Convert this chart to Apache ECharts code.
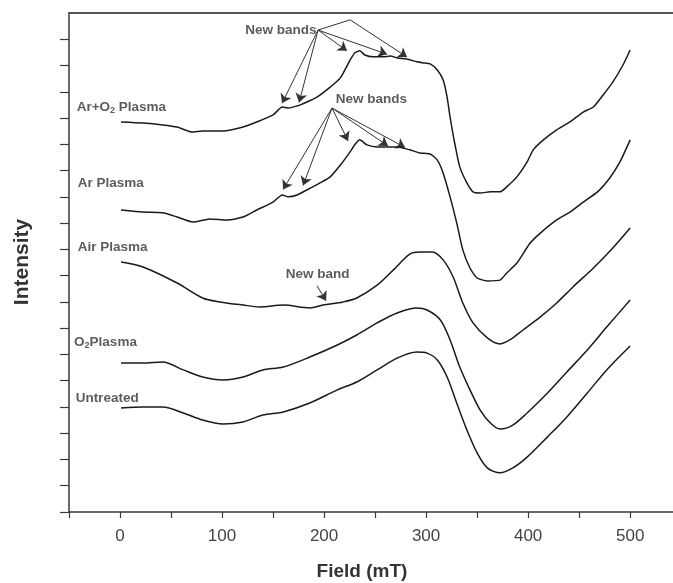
<!DOCTYPE html>
<html><head><meta charset="utf-8">
<script src="https://cdn.jsdelivr.net/npm/echarts@6/dist/echarts.min.js"></script>
<style>html,body{margin:0;padding:0;background:#fff}#c{width:673px;height:583px}</style>
</head><body><div id="c"></div>
<script>
// Field (mT) vs. intensity (arbitrary units, stacked offsets)
const arO2Plasma = [[1,148.5],[22.5,148.1],[42,147.4],[56,146.6],[70.6,144.7],[81,145.1],[101,145.1],[120.6,146.6],[134,148.5],[150,151.2],[159,154.2],[165,153.8],[173.5,154.6],[179,155.4],[193,158.0],[206,161.8],[216,165.3],[225.5,172.1],[230,174.8],[235,175.6],[240,174.0],[248,173.3],[258,173.3],[265,173.6],[271.6,172.9],[281,172.5],[291,171.4],[297,171.0],[304,170.6],[311,168.3],[316.7,164.5],[320.6,158.0],[323.5,150.4],[328,140.5],[333,131.4],[340,125.3],[346,121.9],[353,121.5],[363,121.9],[372.5,121.9],[379,123.8],[389,127.6],[399,133.3],[405,137.9],[415,141.7],[428,145.5],[441,148.5],[454,152.3],[464,154.2],[473.5,158.8],[483,163.7],[493,170.2],[500,175.9]];
const arPlasma = [[1,115.0],[22.5,114.2],[42,113.9],[56,112.3],[71.6,110.4],[88,111.6],[105,111.2],[120.6,112.3],[134,115.0],[150,118.0],[159,120.7],[165,120.0],[173.5,120.7],[183,122.6],[196,125.3],[206,127.6],[216,132.1],[225.5,137.1],[230,139.8],[235,141.7],[242,139.8],[252,139.0],[262,139.0],[271.6,139.0],[284,137.9],[294,136.7],[304,136.3],[311,134.0],[316.7,129.1],[323.5,120.0],[330,110.1],[336,99.8],[343,92.9],[350,89.1],[360,88.0],[372.5,88.3],[379,91.0],[389,94.8],[402,102.4],[412,106.2],[428,111.2],[441,114.2],[454,118.0],[468,121.9],[480,127.2],[490,133.3],[500,141.7]];
const airPlasma = [[1,95.2],[22.5,93.3],[56,87.2],[81,81.5],[98,80.0],[120.6,78.8],[137,78.1],[160,78.8],[186,77.7],[199,78.8],[218.6,80.0],[232,81.5],[252,86.4],[268,92.2],[284,98.2],[294,99.0],[306,99.0],[316.7,96.0],[326.5,89.5],[336,79.6],[346,72.0],[360,66.3],[372.5,64.0],[382,65.5],[395,69.3],[412,74.3],[428,79.6],[444,85.7],[464,92.9],[483,100.5],[500,108.1]];
const o2Plasma = [[1,56.7],[22.5,56.7],[42,57.1],[62,54.1],[81,51.4],[101,50.3],[120.6,51.4],[140,54.1],[160,55.2],[186,59.0],[213,63.6],[232,67.4],[252,72.0],[271.6,75.8],[291,77.7],[301,76.9],[314,73.1],[323.5,65.5],[333,55.2],[343,46.5],[353,38.8],[363,33.9],[372.5,31.6],[385,33.1],[399,37.7],[419,45.3],[438,53.3],[458,61.7],[477,70.4],[500,80.7]];
const untreated = [[1,39.6],[22.5,40.0],[42,40.0],[62,37.7],[81,35.0],[101,33.5],[120.6,34.3],[140,36.9],[160,38.1],[186,41.5],[213,46.5],[232,49.5],[252,54.1],[271.6,58.6],[291,60.9],[301,60.5],[311,57.9],[320.6,51.4],[330,41.5],[340,31.2],[350,22.5],[360,16.8],[372.5,14.9],[385,16.8],[399,20.9],[419,28.6],[438,36.2],[458,45.3],[477,54.1],[500,63.2]];

const seriesNames = ['Ar+O2 Plasma','Ar Plasma','Air Plasma','O2 Plasma','Untreated'];
const xTickValues = [-50,0,50,100,150,200,250,300,350,400,450,500];
const xLabelValues = [0,100,200,300,400,500];
const yTickValues = [0,10,20,30,40,50,60,70,80,90,100,110,120,130,140,150,160,170,180];

// annotation arrows (anchor -> target) in data coordinates
const arrowsWithHead = [
  [[194.1,183.5],[158.8,155.6]],
  [[194.1,183.5],[175.5,155.9]],
  [[194.1,183.5],[222.5,175.6]],
  [[194.1,183.5],[261.8,174.3]],
  [[225.5,187.4],[281.4,173.2]],
  [[207.8,153.8],[159.8,122.8]],
  [[207.8,153.8],[179.4,124.3]],
  [[207.8,153.8],[223.5,141.3]],
  [[207.8,153.8],[262.7,139.4]],
  [[207.8,153.8],[279.4,138.8]],
  [[193.1,86.1],[202,80.4]]
];
const arrowsPlain = [
  [[194.1,183.5],[225.5,187.4]]
];

const FONT = 'Liberation Sans, Arial, Helvetica, sans-serif';
const TXT = '#333';
const sub = {fontSize: 9, lineHeight: 9, verticalAlign: 'bottom', fontWeight: 'bold', color: TXT, fontFamily: FONT};

const textLabels = [
  {value:[-42.5,154.2], text:'Ar+O{sub|2} Plasma', pos:'right'},
  {value:[-41.5,125.2], text:'Ar Plasma', pos:'right'},
  {value:[-41.5,100.9], text:'Air Plasma', pos:'right'},
  {value:[-45,64.6], text:'O{sub|2}Plasma', pos:'right'},
  {value:[-43.5,43.4], text:'Untreated', pos:'right'},
  {value:[192.5,183.5], text:'New bands', pos:'left'},
  {value:[211.5,157.3], text:'New bands', pos:'right'},
  {value:[162.5,90.6], text:'New band', pos:'right'}
];

const chart = echarts.init(document.getElementById('c'), null, {renderer:'canvas'});
const lineStyle = {color:'#1a1a1a', width:1.5};
function curve(name, data, smooth){
  return {name, type:'line', data, showSymbol:false, symbol:'none', smooth, lineStyle, silent:true, animation:false};
}
chart.setOption({
  animation:false,
  textStyle:{fontFamily:FONT},
  grid:{left:69, right:0, top:13, bottom:71, outerBoundsMode:'none', containLabel:false},
  xAxis:[{
    type:'value', min:-50, max:542, interval:50,
    axisLine:{show:true, onZero:false, lineStyle:{color:'#3a3a3a', width:1.5}},
    axisTick:{show:true, length:6, customValues:xTickValues, lineStyle:{color:'#3a3a3a', width:1.2}},
    axisLabel:{show:true, customValues:xLabelValues, fontSize:17, color:'#444', margin:16, fontFamily:FONT},
    splitLine:{show:false}
  },{
    type:'value', position:'top', min:-50, max:542,
    axisLine:{show:true, onZero:false, lineStyle:{color:'#555', width:2}},
    axisTick:{show:false}, axisLabel:{show:false}, splitLine:{show:false}
  }],
  yAxis:{
    type:'value', min:0, max:190, interval:10,
    axisLine:{show:true, onZero:false, lineStyle:{color:'#3a3a3a', width:1.5}},
    axisTick:{show:true, length:9, customValues:yTickValues, lineStyle:{color:'#3a3a3a', width:1.2}},
    axisLabel:{show:false}, splitLine:{show:false}
  },
  series:[
    curve(seriesNames[0], arO2Plasma, 0.2),
    curve(seriesNames[1], arPlasma, 0.2),
    curve(seriesNames[2], airPlasma, 0.3),
    curve(seriesNames[3], o2Plasma, 0.3),
    curve(seriesNames[4], untreated, 0.3),
    {type:'lines', coordinateSystem:'cartesian2d', polyline:false, silent:true,
     symbol:['none','arrow'], symbolSize:[6,9],
     lineStyle:{color:'#333', width:1, opacity:1},
     data:arrowsWithHead.map(c=>({coords:c}))},
    {type:'lines', coordinateSystem:'cartesian2d', polyline:false, silent:true,
     symbol:['none','none'],
     lineStyle:{color:'#333', width:1, opacity:1},
     data:arrowsPlain.map(c=>({coords:c}))},
    {type:'scatter', symbolSize:0, silent:true,
     data:textLabels.map(t=>({value:t.value, label:{show:true, position:t.pos, distance:0, formatter:t.text}})),
     label:{show:true, fontSize:13.5, fontWeight:'bold', color:TXT, fontFamily:FONT, lineHeight:16, rich:{sub}}}
  ],
  graphic:[
    {type:'text', x:22, y:262, rotation:Math.PI/2, style:{text:'Intensity', font:'bold 21px '+FONT, fill:TXT, align:'center', verticalAlign:'middle'}},
    {type:'text', x:362, y:572, style:{text:'Field (mT)', font:'bold 19px '+FONT, fill:TXT, align:'center', verticalAlign:'middle'}}
  ]
});
</script></body></html>
